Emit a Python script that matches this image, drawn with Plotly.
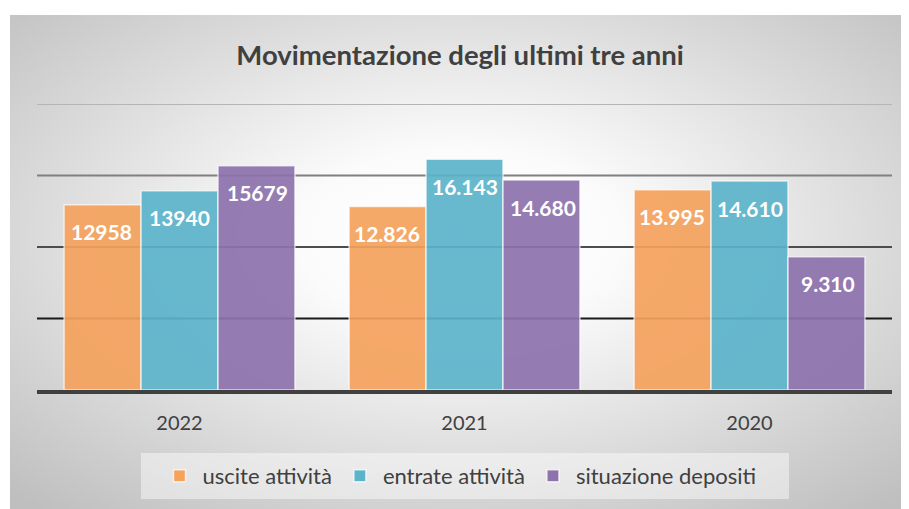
import base64
import plotly.graph_objects as go

# ---- data ----
categories = ["2022", "2021", "2020"]
uscite = [12958, 12826, 13995]
entrate = [13940, 16143, 14610]
depositi = [15679, 14680, 9310]
uscite_labels = ["12958", "12.826", "13.995"]
entrate_labels = ["13940", "16.143", "14.610"]
depositi_labels = ["15679", "14.680", "9.310"]
series_names = ["uscite attività", "entrate attività", "situazione depositi"]
grid_values = [5000, 10000, 15000, 20000]
grid_colors = ["#1a1a1a", "#4d4d4d", "#808080", "#b5b5b5"]

colors = ["#F5A25D", "#5CB4CB", "#8D72AD"]
FONT = "Lato"

W, H = 901, 501  # page renders figure with an 8px body margin

fig = go.Figure()
series = [uscite, entrate, depositi]
labels = [uscite_labels, entrate_labels, depositi_labels]
for name, vals, col in zip(series_names, series, colors):
    fig.add_trace(go.Bar(
        x=categories, y=vals, name=name,
        marker=dict(color=col, opacity=0.92,
                    line=dict(color="rgba(255,255,255,0.7)", width=1.5)),
        hoverinfo="x+y",
    ))

# data labels placed via data coordinates (category index on the category axis)
offsets = [-78, 0, 78]
for vals, labs, dx in zip(series, labels, offsets):
    for i, (v, t) in enumerate(zip(vals, labs)):
        fig.add_annotation(x=i, y=v, text=t, showarrow=False, xref="x", yref="y",
                           xshift=dx, yshift=-27,
                           font=dict(family=FONT, size=21, color="white", weight="bold"))

# gridlines
for gv, gc in zip(grid_values, grid_colors):
    fig.add_shape(type="line", xref="paper", yref="y", x0=0, x1=1, y0=gv, y1=gv,
                  line=dict(color=gc, width=2), layer="below")

# gradient background
svg = ('<svg xmlns="http://www.w3.org/2000/svg" width="900" height="500" preserveAspectRatio="none" viewBox="0 0 900 500">'
       '<defs><radialGradient id="g" cx="0.5" cy="0.45" r="0.72">'
       '<stop offset="0" stop-color="#ffffff"/><stop offset="0.25" stop-color="#fbfbfb"/>'
       '<stop offset="1" stop-color="#bfbfbf"/></radialGradient></defs>'
       '<rect x="0" y="0" width="900" height="500" fill="url(#g)"/></svg>')
src = "data:image/svg+xml;base64," + base64.b64encode(svg.encode()).decode()

ml, mr, mt, mb = 29, 17, 96, 119
pw = W - ml - mr
ph = H - mt - mb


def px(x):
    return (x - ml) / pw


def py(y):
    return (H - mb - y) / ph


fig.add_layout_image(source=src, xref="paper", yref="paper",
                     x=px(2), y=py(7),
                     sizex=(W - 2) / pw, sizey=(H - 7) / ph,
                     xanchor="left", yanchor="top", sizing="stretch", layer="below")

# legend panel
fig.add_shape(type="rect", xref="paper", yref="paper",
              x0=px(133), x1=px(781), y0=py(445), y1=py(491),
              fillcolor="rgba(255,255,255,0.45)", line=dict(width=0), layer="below")

fig.update_layout(
    width=W, height=H,
    margin=dict(l=ml, r=mr, t=mt, b=mb),
    paper_bgcolor="white", plot_bgcolor="rgba(0,0,0,0)",
    barmode="group", bargap=0.19, bargroupgap=0,
    title=dict(text="<b>Movimentazione degli ultimi tre anni</b>", x=px(458), xanchor="center",
               y=1 - 47 / H, yanchor="middle",
               font=dict(family=FONT, size=27.5, color="#404040")),
    font=dict(family=FONT, color="#404040"),
    showlegend=True,
    legend=dict(orientation="h", x=px(451), xanchor="center", y=py(447), yanchor="top",
                bgcolor="rgba(0,0,0,0)", font=dict(family=FONT, size=22, color="#404040"),
                traceorder="normal", itemwidth=36),
    xaxis=dict(type="category", categoryorder="array", categoryarray=categories,
               range=[-0.5, len(categories) - 0.5], autorange=False,
               showgrid=False, showline=True, linecolor="#404040", linewidth=4,
               ticks="outside", ticklen=12, tickcolor="rgba(0,0,0,0)",
               tickfont=dict(family=FONT, size=20, color="#404040")),
    yaxis=dict(range=[0, 20000], showgrid=False, showticklabels=False, zeroline=False),
)

fig.write_html("out.html")
